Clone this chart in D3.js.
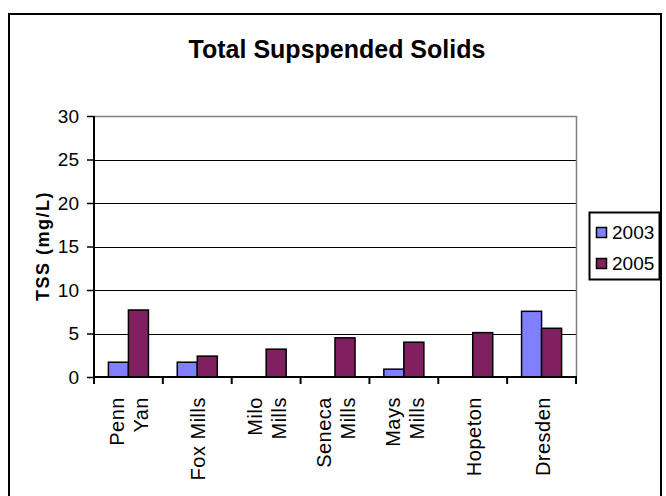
<!DOCTYPE html>
<html><head><meta charset="utf-8">
<script src="https://cdn.jsdelivr.net/npm/d3@7"></script>
<style>body{margin:0;background:#fff}svg{display:block}text{font-family:"Liberation Sans",Arial,sans-serif}</style>
</head><body>
<script>
const categories = [["Penn","Yan"],["Fox Mills"],["Milo","Mills"],["Seneca","Mills"],["Mays","Mills"],["Hopeton"],["Dresden"]];
const seriesNames = ["2003","2005"];
const values2003 = [1.7, 1.7, 0, 0, 0.9, 0, 7.55];
const values2005 = [7.7, 2.4, 3.2, 4.5, 4.0, 5.1, 5.6];
const colors = ["#8080FF","#802060"];
const yTicks = [0,5,10,15,20,25,30];

const W=666,H=496;
const svg=d3.select("body").append("svg").attr("width",W).attr("height",H);
svg.append("rect").attr("x",9).attr("y",14).attr("width",652).attr("height",500).attr("fill","#fff").attr("stroke","#000").attr("stroke-width",2);

const pLeft=94,pRight=576,pTop=116,pBottom=377;
const keys=categories.map(c=>c.join(" "));
const x=d3.scaleBand().domain(keys).range([pLeft,pRight]).paddingInner(0).paddingOuter(0);
const xs=d3.scaleBand().domain(seriesNames).range([0,x.bandwidth()]).paddingInner(0).paddingOuter(0.72);
const y=d3.scaleLinear().domain([0,30]).range([pBottom,pTop]);

svg.append("text").attr("x",337).attr("y",58).attr("text-anchor","middle").attr("font-size",25).attr("font-weight","bold").text("Total Supspended Solids");

// gridlines
svg.append("g").selectAll("line").data(yTicks.filter(t=>t>0&&t<30)).join("line")
 .attr("x1",pLeft).attr("x2",pRight).attr("y1",d=>Math.round(y(d))+0.5).attr("y2",d=>Math.round(y(d))+0.5)
 .attr("stroke","#000").attr("stroke-width",1);
// plot border top/right gray
svg.append("path").attr("d",`M${pLeft},${Math.round(y(30))+0.5}H${pRight+0.5}V${pBottom}`).attr("fill","none").attr("stroke","#808080").attr("stroke-width",1.5);

// bars
const data=keys.map((k,i)=>({k,v:[values2003[i],values2005[i]]}));
const g=svg.append("g");
data.forEach(d=>{
  seriesNames.forEach((s,j)=>{
    if(d.v[j]<=0) return;
    g.append("rect").attr("x",x(d.k)+xs(s)).attr("y",y(d.v[j])).attr("width",xs.bandwidth()).attr("height",y(0)-y(d.v[j]))
     .attr("fill",colors[j]).attr("stroke","#000").attr("stroke-width",1.5);
  });
});

// y axis
const yAxis=d3.axisLeft(y).tickValues(yTicks).tickSize(7).tickPadding(8);
const ya=svg.append("g").attr("transform",`translate(${pLeft},0)`).call(yAxis);
ya.select(".domain").attr("stroke","#000").attr("stroke-width",2).attr("d",`M0,${y(30)}V${pBottom}`);
ya.selectAll(".tick line").attr("stroke","#000").attr("stroke-width",1.5);
ya.selectAll(".tick text").attr("font-size",19).attr("font-family","Liberation Sans, Arial, sans-serif").attr("fill","#000");

// x axis
svg.append("line").attr("x1",pLeft).attr("x2",pRight+1).attr("y1",pBottom).attr("y2",pBottom).attr("stroke","#000").attr("stroke-width",2);
const edges=keys.map(k=>x(k)).concat([pRight]);
svg.append("g").selectAll("line").data(edges).join("line").attr("x1",d=>d).attr("x2",d=>d).attr("y1",pBottom).attr("y2",pBottom+7).attr("stroke","#000").attr("stroke-width",2);

// x labels
categories.forEach((c,i)=>{
  const cx=x(keys[i])+x.bandwidth()/2;
  const n=c.length;
  c.forEach((line,li)=>{
    const off=(li-(n-1)/2)*24+8;
    svg.append("text").attr("transform",`translate(${cx+off},397) rotate(-90)`).attr("text-anchor","end")
      .attr("font-size",20).attr("letter-spacing",0.5).text(line);
  });
});

// y title
svg.append("text").attr("transform","translate(49,246) rotate(-90)").attr("text-anchor","middle").attr("font-size",18).attr("font-weight","bold").attr("letter-spacing",1.5).text("TSS (mg/L)");

// legend
const lg=svg.append("g");
lg.append("rect").attr("x",589.5).attr("y",212.5).attr("width",70).attr("height",67).attr("fill","#fff").attr("stroke","#000").attr("stroke-width",2);
seriesNames.forEach((s,j)=>{
  const yy=227+j*31;
  lg.append("rect").attr("x",596.5).attr("y",yy+0.5).attr("width",10).attr("height",10).attr("fill",colors[j]).attr("stroke","#000").attr("stroke-width",1.5);
  lg.append("text").attr("x",612).attr("y",yy+12).attr("font-size",19).text(s);
});
</script>
</body></html>
